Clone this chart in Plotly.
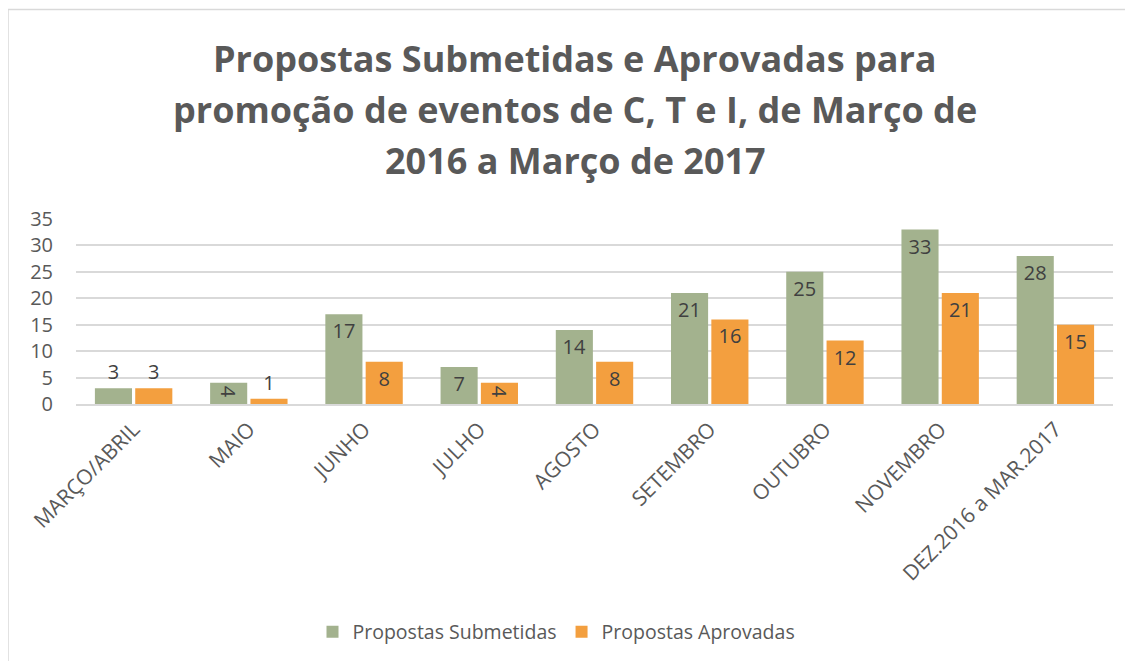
import plotly.graph_objects as go

categories = ["MARÇO/ABRIL", "MAIO", "JUNHO", "JULHO", "AGOSTO", "SETEMBRO",
              "OUTUBRO", "NOVEMBRO", "DEZ.2016 a MAR.2017"]
submetidas = [3, 4, 17, 7, 14, 21, 25, 33, 28]
aprovadas = [3, 1, 8, 4, 8, 16, 12, 21, 15]
y_ticks = [0, 5, 10, 15, 20, 25, 30, 35]
title_lines = ["Propostas Submetidas e Aprovadas para",
               "promoção de eventos de C, T e I, de Março de",
               "2016 a Março de 2017"]

FONT = "Open Sans"
TXT = "#595959"
LBL = "#404040"
FS = 19.5

W, H = 1125, 653
ML, MR, MT, MB = 68, 20, 211, 257
PW = W - ML - MR
PH = H - MT - MB


def py(pix):
    # page pixel (with 8px body offset) -> paper y
    return (H - MB + 8 - pix) / PH


def px(pix):
    return (pix - 8 - ML) / PW


fig = go.Figure()
for name, vals, col in [("Propostas Submetidas", submetidas, "#a3b28e"),
                        ("Propostas Aprovadas", aprovadas, "#f39f3f")]:
    fig.add_trace(go.Bar(
        name=name, x=categories, y=vals,
        marker=dict(color=col, line=dict(width=0)),
        text=[str(v) for v in vals], textposition="auto",
        insidetextanchor="end", constraintext="none",
        insidetextfont=dict(family=FONT, size=20, color=LBL),
        outsidetextfont=dict(family=FONT, size=20, color=LBL),
        cliponaxis=False,
    ))

annotations = []
for i, line in enumerate(title_lines):
    annotations.append(dict(
        text="<b>" + line + "</b>", xref="paper", yref="paper",
        x=px(575), y=py(58 + 51 * i), xanchor="center", yanchor="middle",
        showarrow=False, font=dict(family=FONT, size=36, color=TXT),
    ))

fig.update_layout(
    width=W, height=H,
    paper_bgcolor="white", plot_bgcolor="white",
    margin=dict(l=ML, r=MR, t=MT, b=MB, autoexpand=False),
    barmode="group", bargap=0.3, bargroupgap=0.08,
    font=dict(family=FONT, color=TXT, size=FS),
    annotations=annotations,
    xaxis=dict(
        tickangle=-45, tickfont=dict(family=FONT, size=21, color=TXT),
        showgrid=False, showline=True, linecolor="#d9d9d9", linewidth=1.5,
        ticks="", automargin=False, ticklabelstandoff=3,
    ),
    yaxis=dict(
        range=[0, 35], tickvals=y_ticks,
        tickfont=dict(family=FONT, size=20, color=TXT),
        showgrid=True, gridcolor="#d9d9d9", gridwidth=1.5,
        zeroline=False, showline=False, ticks="", ticklabelstandoff=22,
        automargin=False,
    ),
    legend=dict(
        orientation="h", x=0.5 - 14 / W, xanchor="center", xref="container",
        y=1 - (632 - 8) / H, yanchor="middle", yref="container",
        font=dict(family=FONT, size=FS, color=TXT),
        itemwidth=30, traceorder="normal",
    ),
    shapes=[
        dict(type="line", xref="paper", yref="paper",
             x0=px(8), x1=px(1140), y0=py(9.5), y1=py(9.5),
             line=dict(color="#d9d9d9", width=1.5), layer="below"),
        dict(type="line", xref="paper", yref="paper",
             x0=px(8), x1=px(8), y0=py(9.5), y1=py(670),
             line=dict(color="#d9d9d9", width=1.5), layer="below"),
    ],
)

fig.write_html("out.html")
